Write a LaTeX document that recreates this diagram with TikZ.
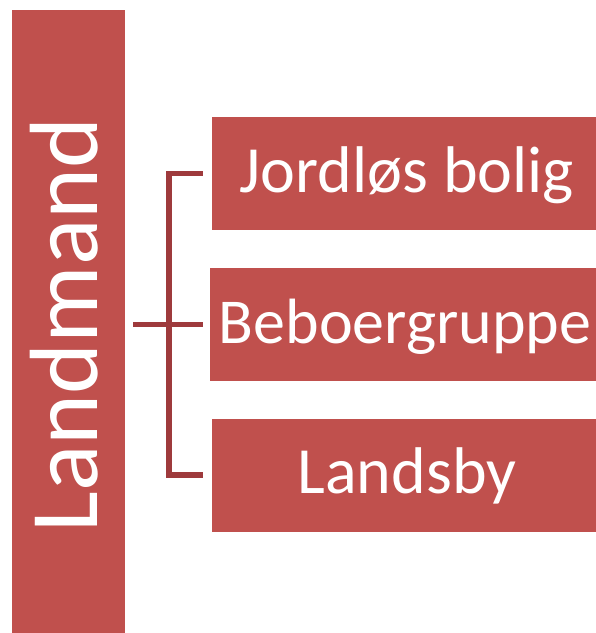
\documentclass[tikz,border=0pt]{standalone}
\usepackage{fontspec}
\setmainfont{Carlito}
\definecolor{boxred}{HTML}{C0504D}
\definecolor{linered}{HTML}{9E3A3C}
\tikzset{
  redbox/.style={draw=none, fill=boxred, inner sep=0pt, text=white,
    font=\fontsize{66}{70}\selectfont, text height=37pt, text depth=0pt,
    minimum width=390pt, minimum height=113pt},
  barbox/.style={draw=none, fill=boxred, inner sep=0pt,
    minimum width=113pt, minimum height=640pt},
  bartext/.style={text=white, font=\fontsize{97}{100}\selectfont, rotate=90, anchor=base, inner sep=0pt},
  conn/.style={draw=linered, line width=5.5pt, line join=miter, line cap=butt}
}
\begin{document}
\begin{tikzpicture}[x=1pt,y=-1pt]
\useasboundingbox (0,0) rectangle (596,633);
\clip (0,0) rectangle (596,633);
\fill[white] (0,0) rectangle (596,633);
\node[barbox] (bar) at (68.5,330) {};
\node[bartext] (lm) at (97,325) {Landmand};
\node[redbox] (b1) at (407,173.5) {Jordløs bolig};
\node[redbox, font=\fontsize{64}{68}\selectfont] (b2) at (405,324.5) {Beboergruppe};
\node[redbox] (b3) at (407,475) {Landsby};
\coordinate (spine) at (169,0);
\draw[conn] ([xshift=-9pt]b1.west) -- (spine |- b1.west) -- (spine |- b3.west) -- ([xshift=-9pt]b3.west);
\draw[conn] ([xshift=8pt]bar.east |- b2.west) -- ([xshift=-7pt]b2.west);
\end{tikzpicture}
\end{document}
